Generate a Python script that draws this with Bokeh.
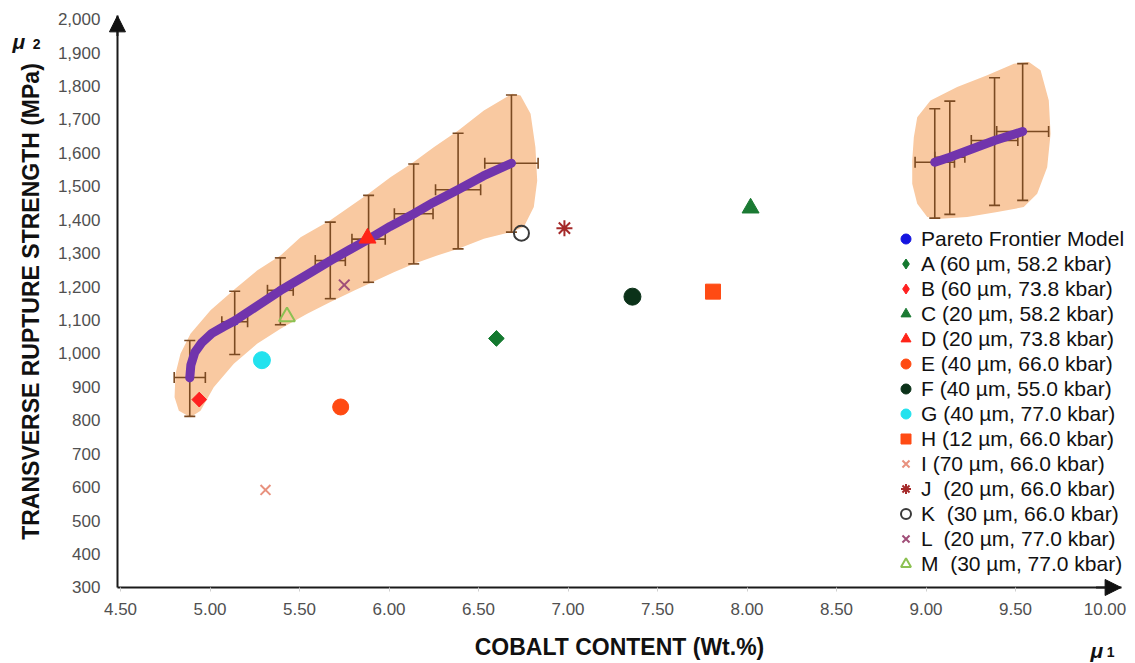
import numpy as np
from bokeh.plotting import figure
from bokeh.models import (FixedTicker, NumeralTickFormatter, Arrow, NormalHead, Label, Range1d)
from bokeh.embed import file_html
from bokeh.resources import INLINE

# ---------------- data ----------------
x_ticks = [4.5, 5.0, 5.5, 6.0, 6.5, 7.0, 7.5, 8.0, 8.5, 9.0, 9.5, 10.0]
y_ticks = [300, 400, 500, 600, 700, 800, 900, 1000, 1100, 1200, 1300, 1400,
           1500, 1600, 1700, 1800, 1900, 2000]

# Pareto frontier model curve (left branch)
curve_x = [4.887, 4.893, 4.915, 4.955, 5.010, 5.075, 5.138, 5.263, 5.392, 5.543,
           5.673, 5.782, 5.887, 6.006, 6.139, 6.248, 6.385, 6.527, 6.684]
curve_y = [927, 965, 1003, 1033, 1060, 1080, 1098, 1142, 1188, 1236,
           1278, 1311, 1342, 1380, 1418, 1452, 1490, 1531, 1569]

# error bars on the left branch
bar_x = [4.887, 5.138, 5.393, 5.672, 5.886, 6.138, 6.386, 6.684]
bar_y = [928, 1095, 1189, 1278, 1342, 1418, 1490, 1569]
bar_lo = [812, 997, 1086, 1164, 1213, 1268, 1313, 1363]
bar_hi = [1039, 1186, 1286, 1393, 1473, 1567, 1659, 1773]
bar_dx = [0.087, 0.072, 0.072, 0.084, 0.093, 0.108, 0.126, 0.149]

# right branch
rbar_x = [9.049, 9.133, 9.383, 9.540]
rbar_y = [1572, 1587, 1637, 1664]
rbar_lo = [1405, 1416, 1443, 1458]
rbar_hi = [1732, 1755, 1825, 1867]
rbar_dx = [0.110, 0.084, 0.130, 0.145]

# confidence band outlines
band_x = [4.891, 4.947, 5.021, 5.133, 5.263, 5.394, 5.543, 5.670, 5.803, 5.885,
          6.027, 6.136, 6.269, 6.387, 6.530, 6.679, 6.753, 6.809, 6.828, 6.818,
          6.791, 6.735, 6.688, 6.530, 6.387, 6.250, 6.136, 6.008, 5.885, 5.670,
          5.506, 5.394, 5.263, 5.139, 5.003, 4.891, 4.835, 4.807, 4.802, 4.826]
band_y = [809, 829, 899, 969, 1029, 1074, 1119, 1153, 1188, 1208,
          1243, 1268, 1293, 1313, 1343, 1363, 1378, 1438, 1517, 1617,
          1717, 1772, 1777, 1727, 1667, 1617, 1572, 1527, 1478, 1398,
          1348, 1293, 1248, 1193, 1129, 1059, 999, 939, 869, 829]
rband_x = [8.923, 8.932, 8.951, 9.025, 9.174, 9.342, 9.491, 9.575, 9.640, 9.686,
           9.696, 9.677, 9.621, 9.546, 9.398, 9.230, 9.081, 9.007, 8.951, 8.923]
rband_y = [1577, 1647, 1707, 1757, 1797, 1832, 1867, 1872, 1847, 1757,
           1657, 1557, 1478, 1438, 1423, 1408, 1403, 1408, 1448, 1508]

# experimental samples
sample_labels = ["A (60 µm, 58.2 kbar)", "B (60 µm, 73.8 kbar)", "C (20 µm, 58.2 kbar)",
                 "D (20 µm, 73.8 kbar)", "E (40 µm, 66.0 kbar)", "F (40 µm, 55.0 kbar)",
                 "G (40 µm, 77.0 kbar)", "H (12 µm, 66.0 kbar)", "I (70 µm, 66.0 kbar)",
                 "J  (20 µm, 66.0 kbar)", "K  (30 µm, 66.0 kbar)", "L  (20 µm, 77.0 kbar)",
                 "M  (30 µm, 77.0 kbar)"]
sample_x = [6.60, 4.94, 8.02, 5.88, 5.73, 7.36, 5.29, 7.81, 5.31, 6.98, 6.74, 5.75, 5.43]
sample_y = [1045, 862, 1435, 1345, 840, 1170, 980, 1185, 592, 1375, 1360, 1205, 1110]

# ---------------- styles ----------------
FONT = "Liberation Sans"
BAND = "#F9C9A1"
EBAR = "#7B4A22"
PURPLE = "#7134AC"
markers = ["diamond", "diamond", "triangle", "triangle", "circle", "circle", "circle",
           "square", "x", "asterisk", "circle", "x", "triangle"]
colors = ["#14792F", "#FF2020", "#1B7A33", "#FF2418", "#FF4A12", "#0B3219", "#22E2EE",
          "#FF4B14", "#E8917E", "#A52A2A", "#3A3A3A", "#A04E78", "#8CC152"]
filled = [True, True, True, True, True, True, True, True, False, False, False, False, False]
sizes = [15, 14, 17, 17, 16, 17, 17, 15, 14, 16, 15, 15, 16]

# the frame covers the whole canvas; the axes are drawn at fixed locations
p = figure(width=1133, height=662, x_range=Range1d(3.8296, 10.1592),
           y_range=Range1d(75.65, 2055.9),
           output_backend="svg", toolbar_location=None, min_border=0,
           background_fill_color="white", border_fill_color="white", outline_line_color=None)
p.grid.visible = False

p.xaxis.fixed_location = 300
p.yaxis.fixed_location = 4.483
p.xaxis.bounds = (4.483, 10.09)
p.yaxis.bounds = (300, 2010)
p.xaxis.ticker = FixedTicker(ticks=x_ticks)
p.xaxis.formatter = NumeralTickFormatter(format="0.00")
p.yaxis.ticker = FixedTicker(ticks=y_ticks)
p.yaxis.formatter = NumeralTickFormatter(format="0,0")
p.xaxis.axis_label = "COBALT CONTENT (Wt.%)"
p.yaxis.axis_label = "TRANSVERSE RUPTURE STRENGTH (MPa)"
for ax in (p.xaxis[0], p.yaxis[0]):
    ax.axis_line_color = "#1a1a1a"
    ax.axis_line_width = 2
    ax.minor_tick_line_color = None
    ax.major_label_text_font = FONT
    ax.major_label_text_font_size = "17px"
    ax.major_label_text_color = "#505050"
    ax.axis_label_text_font = FONT
    ax.axis_label_text_font_size = "23px"
    ax.axis_label_text_font_style = "bold"
    ax.axis_label_text_color = "#111111"
p.yaxis.major_tick_line_color = None
p.yaxis.major_label_standoff = 11
p.yaxis.axis_label_standoff = 11
p.xaxis.major_tick_line_color = "#cfcfcf"
p.xaxis.major_tick_out = 4
p.xaxis.major_tick_in = 0
p.xaxis.major_label_standoff = 12
p.xaxis.axis_label_standoff = 15

# axis arrows
p.add_layout(Arrow(end=NormalHead(size=16, fill_color="#111111", line_color="#111111"),
                   x_start=4.483, y_start=1950, x_end=4.483, y_end=2010,
                   line_color="#1a1a1a", line_width=2))
p.add_layout(Arrow(end=NormalHead(size=16, fill_color="#111111", line_color="#111111"),
                   x_start=9.95, y_start=300, x_end=10.09, y_end=300,
                   line_color="#1a1a1a", line_width=2))

# bands
p.patch(band_x, band_y, fill_color=BAND, line_color=None)
p.patch(rband_x, rband_y, fill_color=BAND, line_color=None)

# error bars
for bx, by, lo, hi, dx in ((bar_x, bar_y, bar_lo, bar_hi, bar_dx),
                           (rbar_x, rbar_y, rbar_lo, rbar_hi, rbar_dx)):
    bx_a = np.array(bx); dx_a = np.array(dx)
    p.segment(x0=bx, y0=lo, x1=bx, y1=hi, line_color=EBAR, line_width=1.6)
    p.segment(x0=bx_a - dx_a, y0=by, x1=bx_a + dx_a, y1=by, line_color=EBAR, line_width=1.6)
    p.scatter(x=list(bx) + list(bx), y=list(lo) + list(hi), marker="dash", size=11,
              line_color=EBAR, line_width=1.6)
    p.scatter(x=list(bx_a - dx_a) + list(bx_a + dx_a), y=list(by) + list(by), marker="dash",
              angle=np.pi / 2, size=11, line_color=EBAR, line_width=1.6)

# Pareto frontier model points (under the curve)
p.scatter(x=bar_x + rbar_x, y=bar_y + rbar_y, marker="circle", size=7,
          fill_color="#1414E0", line_color="#1414E0", legend_label="Pareto Frontier Model")

# Pareto frontier curves
p.line(curve_x, curve_y, line_color=PURPLE, line_width=9, line_cap="round", line_join="round")
p.line(rbar_x, rbar_y, line_color=PURPLE, line_width=9, line_cap="round", line_join="round")

# samples
for lab, sx, sy, mk, c, f, s in zip(sample_labels, sample_x, sample_y, markers, colors,
                                     filled, sizes):
    if f:
        p.scatter(x=[sx], y=[sy], marker=mk, size=s, fill_color=c, line_color=c,
                  legend_label=lab)
        if mk == "diamond":
            # square-shaped diamond as in the reference (legend keeps the diamond glyph)
            p.scatter(x=[sx], y=[sy], marker="square", angle=np.pi / 4, size=s * 0.74,
                      fill_color=c, line_color=c)
    else:
        p.scatter(x=[sx], y=[sy], marker=mk, size=s, fill_color=None, line_color=c,
                  line_width=2, legend_label=lab)

leg = p.legend[0]
leg.location = (893, 86)
leg.glyph_width = 25
leg.glyph_height = 25
leg.label_height = 25
leg.spacing = 0
leg.label_standoff = 3
leg.padding = 0
leg.margin = 0
leg.border_line_color = None
leg.background_fill_alpha = 0
leg.label_text_font = FONT
leg.label_text_font_size = "21px"
leg.label_text_color = "#111111"

# mu labels
p.add_layout(Label(x=3.897, y=1933, text="μ", text_font=FONT, text_font_style="bold italic",
                   text_font_size="21px", text_color="#111111", text_baseline="alphabetic"))
p.add_layout(Label(x=4.010, y=1927, text="2", text_font=FONT, text_font_style="bold",
                   text_font_size="14px", text_color="#111111", text_baseline="alphabetic"))
p.add_layout(Label(x=9.919, y=111.5, text="μ", text_font=FONT, text_font_style="bold italic",
                   text_font_size="21px", text_color="#111111", text_baseline="alphabetic"))
p.add_layout(Label(x=10.010, y=105.6, text="1", text_font=FONT, text_font_style="bold",
                   text_font_size="14px", text_color="#111111", text_baseline="alphabetic"))

open("out.html", "w").write(file_html(p, INLINE))
